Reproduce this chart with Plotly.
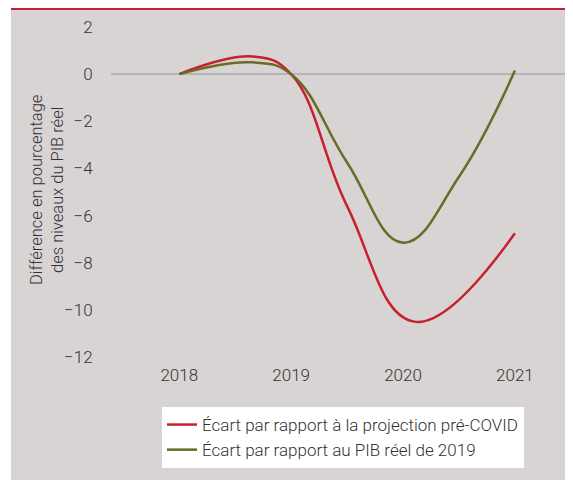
import plotly.graph_objects as go

# yearly values plus turning points
precovid_x = [2018.0, 2018.68, 2019.0, 2019.5, 2020.1, 2021.0]
precovid_y = [0.0, 0.74, 0.0, -5.6, -10.5, -6.75]
pib2019_x = [2018.0, 2018.65, 2019.0, 2019.5, 2020.0, 2020.5, 2021.0]
pib2019_y = [0.0, 0.5, 0.0, -3.75, -7.15, -4.35, 0.15]
year_ticks = [2018, 2019, 2020, 2021]
y_ticks = [2, 0, -2, -4, -6, -8, -10, -12]

FONT = "Roboto, sans-serif"
BG = "#d9d4d4"

fig = go.Figure()
fig.add_trace(go.Scatter(x=precovid_x, y=precovid_y, mode="lines",
                         name="Écart par rapport à la projection pré-COVID",
                         line=dict(color="#c8202e", width=2.5, shape="spline", smoothing=1.2)))
fig.add_trace(go.Scatter(x=pib2019_x, y=pib2019_y, mode="lines",
                         name="Écart par rapport au PIB réel de 2019",
                         line=dict(color="#6b6a26", width=2.5, shape="spline", smoothing=1.2)))

# page body adds 8px offset, so the figure is drawn 8px smaller
fig.update_layout(
    width=565, height=472,
    margin=dict(l=103, r=1, t=19, b=123, autoexpand=False),
    paper_bgcolor="white", plot_bgcolor="white",
    font=dict(family=FONT, size=16, color="#333333", weight=300),
    showlegend=True,
    legend=dict(x=0.1106, y=-0.1515, xanchor="left", yanchor="top",
                bgcolor="white", font=dict(size=17), tracegroupgap=0,
                itemwidth=30),
    shapes=[
        dict(type="rect", xref="paper", yref="paper", x0=-0.217, x1=1.01,
             y0=-0.4, y1=1.053, fillcolor=BG, line_width=0, layer="below"),
        dict(type="line", xref="paper", yref="paper", x0=-0.217, x1=1.01,
             y0=1.0555, y1=1.0555, line=dict(color="#c8202e", width=2.5)),
    ],
    annotations=[
        dict(text="Différence en pourcentage<br>des niveaux du PIB réel",
             xref="paper", yref="paper", x=-0.139, y=0.506, textangle=-90,
             showarrow=False, font=dict(size=16.5), xanchor="center", yanchor="middle"),
    ],
)
fig.update_xaxes(range=[2017.39, 2021.51], tickvals=year_ticks, showgrid=False,
                 zeroline=False, ticks="outside", ticklen=3, tickcolor="rgba(0,0,0,0)",
                 tickfont=dict(size=17), automargin=False)
fig.update_yaxes(range=[-12, 2], tickvals=y_ticks, showgrid=False,
                 zeroline=True, zerolinecolor="#b5b5b5", zerolinewidth=1.5,
                 ticks="outside", ticklen=14, tickcolor="rgba(0,0,0,0)",
                 tickfont=dict(size=17), automargin=False)

fig.write_html("out.html")
